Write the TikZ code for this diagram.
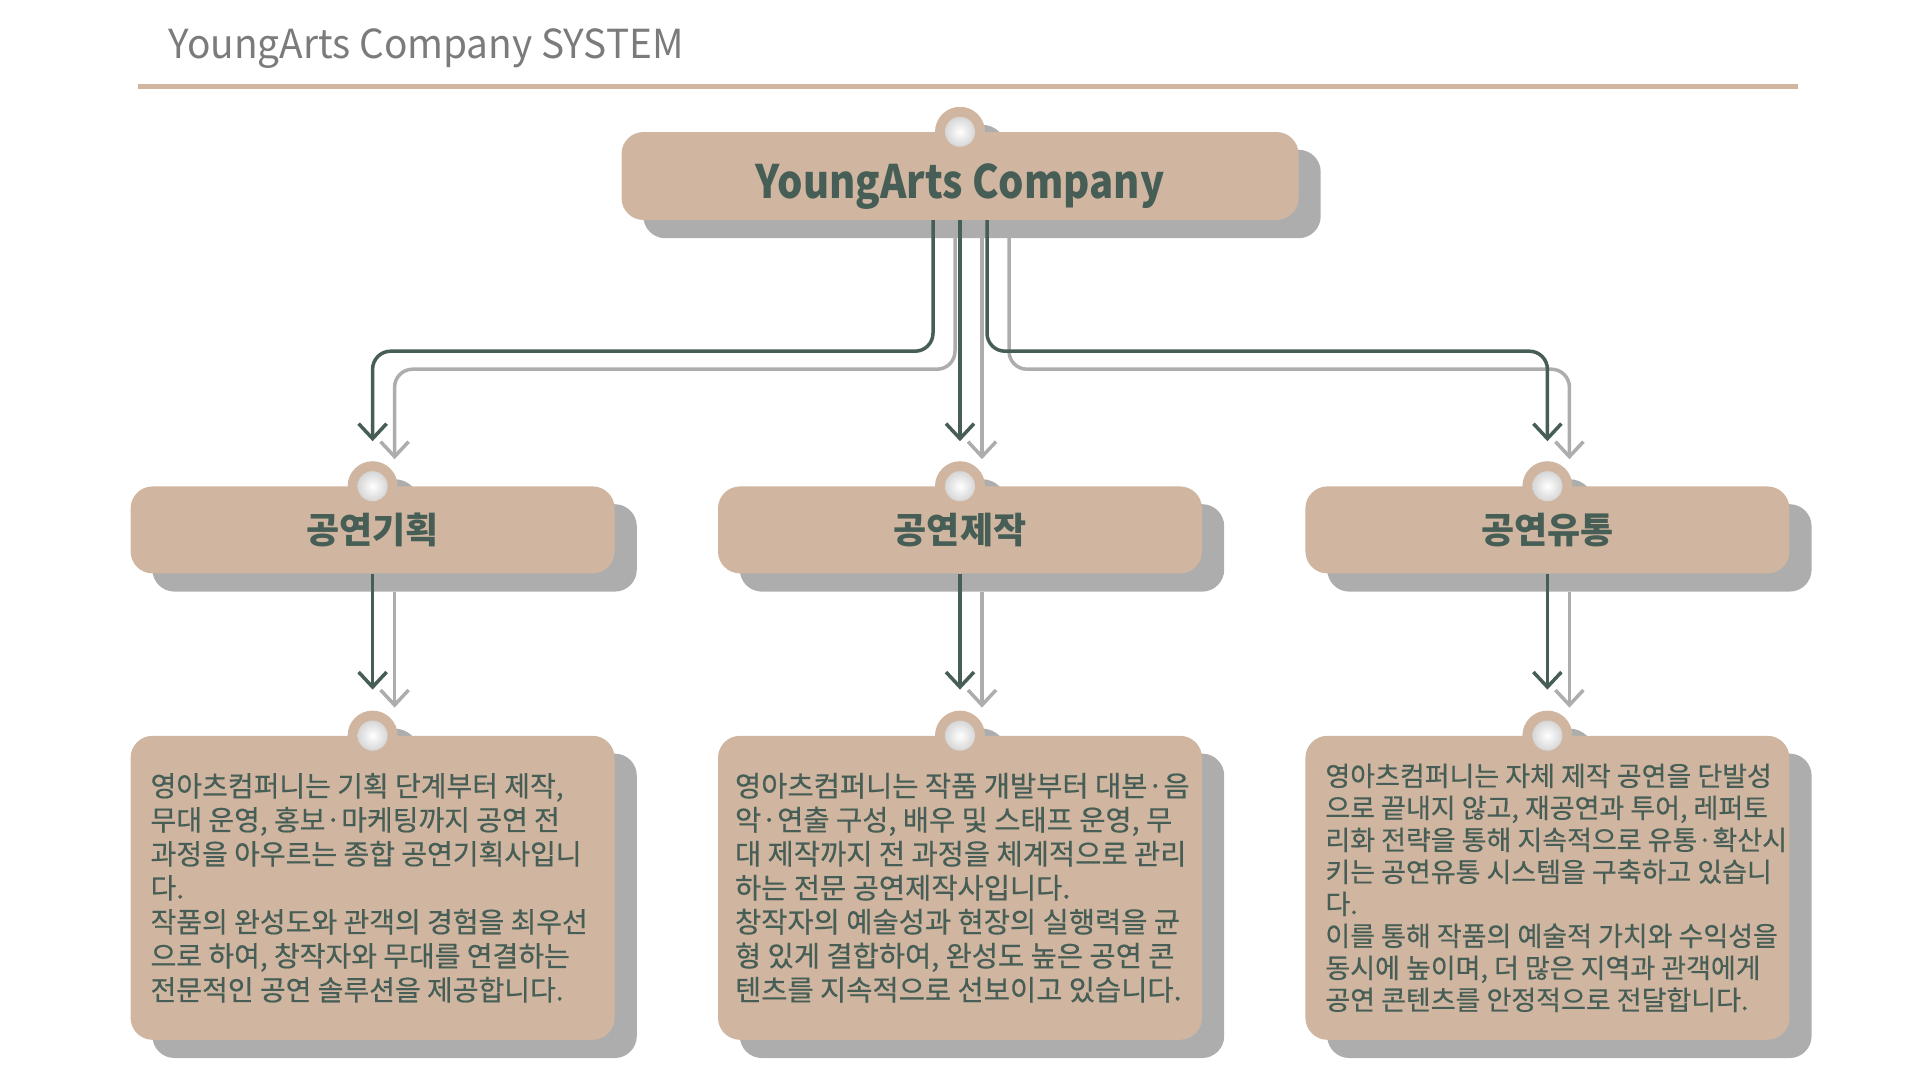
\documentclass[tikz,border=0pt]{standalone}
\usepackage{fontspec}
\setmainfont{Noto Sans CJK KR}
\newfontfamily\headfont[FakeStretch=0.97]{Noto Sans CJK KR}
\newfontfamily\rootfont[FakeStretch=0.87]{Noto Sans CJK KR}
\newfontfamily\bodyfont[FakeBold=0.5]{Noto Sans CJK KR}
\usetikzlibrary{arrows.meta,positioning,backgrounds}

\definecolor{boxtan}{HTML}{D0B6A0}
\definecolor{inkgreen}{HTML}{465E55}
\definecolor{shadowgray}{HTML}{ADADAD}
\definecolor{titlegray}{HTML}{7B7B7B}

\begin{document}
\begin{tikzpicture}[
    x=1pt, y=-1pt,
    card/.style={fill=boxtan, rounded corners=22pt, inner sep=0pt},
    rootbox/.style={card, minimum width=677pt, minimum height=88pt,
        text height=45pt, text depth=0pt,
        font=\rootfont\fontsize{46}{54}\selectfont\bfseries, text=inkgreen},
    catbox/.style={card, minimum width=484pt, minimum height=87pt,
        font=\fontsize{36}{42}\selectfont\bfseries, text=inkgreen},
    descbox/.style={card, minimum width=484pt, minimum height=304pt},
    desc/.style={anchor=west, align=left, inner sep=0pt, text=inkgreen,
        font=\bodyfont\fontsize{28}{34}\selectfont},
    link/.style={draw=inkgreen, line width=3.5pt, rounded corners=18pt,
        -{Straight Barb[length=15pt, width=28pt]}},
    shadowlink/.style={link, draw=shadowgray, transform canvas={shift={(22pt,-18pt)}}}
]
\useasboundingbox (0,0) rectangle (1920,1080);

% heading
\node[anchor=base west, inner sep=0pt, text=titlegray, font=\headfont\fontsize{40}{48}\selectfont]
    (title) at (168,58) {YoungArts Company SYSTEM};
\draw[boxtan, line width=5pt] (138,86) -- (1798,86);

% cards
\node[rootbox] (root) at (960,176) {YoungArts Company};
\node[catbox, below=266pt of root] (prod) {공연제작};
\node[catbox, left=103pt of prod] (plan) {공연기획};
\node[catbox, right=103pt of prod] (dist) {공연유통};
\node[descbox, below=162pt of plan] (planBox) {};
\node[descbox, below=162pt of prod] (prodBox) {};
\node[descbox, below=162pt of dist] (distBox) {};

\node[desc] (planTxt) at ([xshift=20pt]planBox.west)
    {영아츠컴퍼니는 기획 단계부터 제작,\\무대 운영, 홍보·마케팅까지 공연 전\\과정을 아우르는 종합 공연기획사입니\\다.\\작품의 완성도와 관객의 경험을 최우선\\으로 하여, 창작자와 무대를 연결하는\\전문적인 공연 솔루션을 제공합니다.};
\node[desc, font=\bodyfont\fontsize{28.5}{34}\selectfont] (prodTxt) at ([xshift=17pt]prodBox.west)
    {영아츠컴퍼니는 작품 개발부터 대본·음\\악·연출 구성, 배우 및 스태프 운영, 무\\대 제작까지 전 과정을 체계적으로 관리\\하는 전문 공연제작사입니다.\\창작자의 예술성과 현장의 실행력을 균\\형 있게 결합하여, 완성도 높은 공연 콘\\텐츠를 지속적으로 선보이고 있습니다.};
\node[desc, font=\bodyfont\fontsize{27}{32}\selectfont] (distTxt) at ([xshift=20pt]distBox.west)
    {영아츠컴퍼니는 자체 제작 공연을 단발성\\으로 끝내지 않고, 재공연과 투어, 레퍼토\\리화 전략을 통해 지속적으로 유통·확산시\\키는 공연유통 시스템을 구축하고 있습니\\다.\\이를 통해 작품의 예술적 가치와 수익성을\\동시에 높이며, 더 많은 지역과 관객에게\\공연 콘텐츠를 안정적으로 전달합니다.};

% pins
\foreach \n in {root,plan,prod,dist,planBox,prodBox,distBox} {
    \fill[boxtan] (\n.north) circle (25pt);
    \shade[inner color=white, outer color=black!16] (\n.north) circle (15pt);
}

% links
\draw[link] ([xshift=-27pt]root.south) -- ++(0,131) -| ([yshift=45pt]plan.north);
\draw[link] (root.south) -- ([yshift=45pt]prod.north);
\draw[link] ([xshift=27pt]root.south) -- ++(0,131) -| ([yshift=45pt]dist.north);
\draw[link] (plan.south) -- ([yshift=46pt]planBox.north);
\draw[link] (prod.south) -- ([yshift=46pt]prodBox.north);
\draw[link] (dist.south) -- ([yshift=46pt]distBox.north);

% shadows
\begin{scope}[on background layer]
\draw[shadowlink] ([xshift=-27pt]root.south) -- ++(0,131) -| ([yshift=45pt]plan.north);
\draw[shadowlink] (root.south) -- ([yshift=45pt]prod.north);
\draw[shadowlink] ([xshift=27pt]root.south) -- ++(0,131) -| ([yshift=45pt]dist.north);
\draw[shadowlink] (plan.south) -- ([yshift=46pt]planBox.north);
\draw[shadowlink] (prod.south) -- ([yshift=46pt]prodBox.north);
\draw[shadowlink] (dist.south) -- ([yshift=46pt]distBox.north);
\foreach \n in {root,plan,prod,dist,planBox,prodBox,distBox} {
    \fill[shadowgray, rounded corners=22pt] ([shift={(22pt,-18pt)}]\n.north west)
        rectangle ([shift={(22pt,-18pt)}]\n.south east);
    \fill[shadowgray] ([shift={(22pt,-18pt)}]\n.north) circle (25pt);
}
\end{scope}
\end{tikzpicture}
\end{document}
